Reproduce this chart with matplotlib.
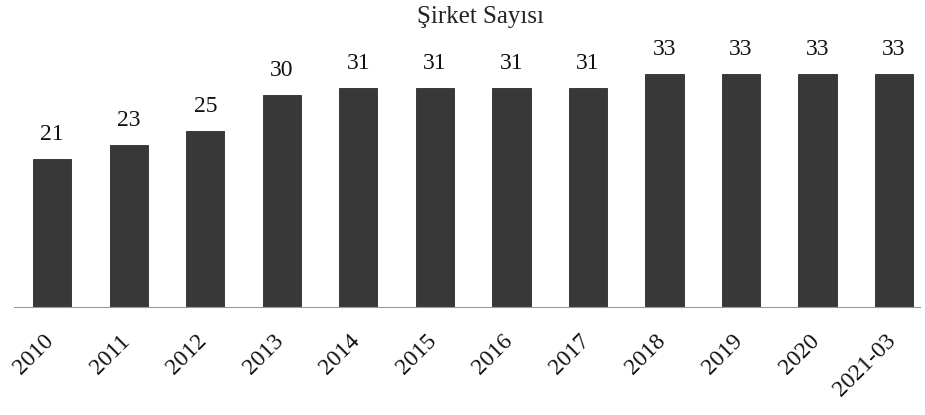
import matplotlib.pyplot as plt
from matplotlib.transforms import ScaledTranslation

years = ["2010", "2011", "2012", "2013", "2014", "2015",
         "2016", "2017", "2018", "2019", "2020", "2021-03"]
counts = [21, 23, 25, 30, 31, 31, 31, 31, 33, 33, 33, 33]

plt.rcParams['font.family'] = ['Liberation Serif', 'DejaVu Serif']

fig = plt.figure(figsize=(9.25, 4.15), dpi=100)
ax = fig.add_axes([14 / 925, 108 / 415, 906 / 925, 254 / 415])

x = range(len(years))
bars = ax.bar(x, counts, width=0.5, color='#383838', edgecolor='#2a2a2a', linewidth=0.6)

for b, v in zip(bars, counts):
    ax.annotate(str(v), (b.get_x() + b.get_width() / 2, v),
                xytext=(0, 10), textcoords='offset points',
                ha='center', va='bottom', fontsize=17, color='#111111')

ax.set_xlim(-0.5, 11.34)
ax.set_ylim(0, 36)
ax.set_xticks(list(x))
ax.set_xticklabels(years, rotation=45, ha='right', rotation_mode='anchor',
                   fontsize=17, color='#111111')
ax.tick_params(axis='x', length=0, pad=17)
# nudge rotated labels left so they end under the bar centres
shift = ScaledTranslation(-9 / 100, 0, fig.dpi_scale_trans)
for lbl in ax.get_xticklabels():
    lbl.set_transform(lbl.get_transform() + shift)
ax.set_yticks([])
for s in ['top', 'right', 'left']:
    ax.spines[s].set_visible(False)
ax.spines['bottom'].set_color('#999999')
ax.spines['bottom'].set_linewidth(0.8)

fig.text(0.519, 0.985, "Şirket Sayısı", ha='center', va='top', fontsize=18, color='#222222')

fig.savefig("out.png", dpi=100)
